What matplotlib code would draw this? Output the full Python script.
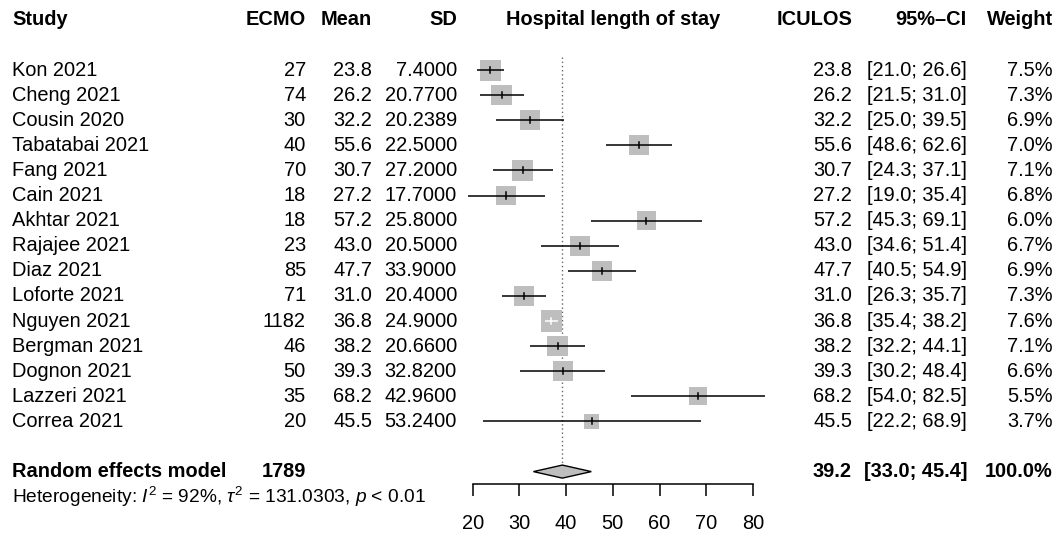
import numpy as np
import matplotlib
matplotlib.use("Agg")
import matplotlib.pyplot as plt
from matplotlib.patches import Polygon

# ---------------- data ----------------
studies = ["Kon 2021", "Cheng 2021", "Cousin 2020", "Tabatabai 2021", "Fang 2021",
           "Cain 2021", "Akhtar 2021", "Rajajee 2021", "Diaz 2021", "Loforte 2021",
           "Nguyen 2021", "Bergman 2021", "Dognon 2021", "Lazzeri 2021", "Correa 2021"]
ecmo = [27, 74, 30, 40, 70, 18, 18, 23, 85, 71, 1182, 46, 50, 35, 20]
means = [23.8, 26.2, 32.2, 55.6, 30.7, 27.2, 57.2, 43.0, 47.7, 31.0, 36.8, 38.2, 39.3, 68.2, 45.5]
sds = [7.4, 20.77, 20.2389, 22.5, 27.2, 17.7, 25.8, 20.5, 33.9, 20.4, 24.9, 20.66, 32.82, 42.96, 53.24]
ci_lo = [21.0, 21.5, 25.0, 48.6, 24.3, 19.0, 45.3, 34.6, 40.5, 26.3, 35.4, 32.2, 30.2, 54.0, 22.2]
ci_hi = [26.6, 31.0, 39.5, 62.6, 37.1, 35.4, 69.1, 51.4, 54.9, 35.7, 38.2, 44.1, 48.4, 82.5, 68.9]
weights = [7.5, 7.3, 6.9, 7.0, 7.1, 6.8, 6.0, 6.7, 6.9, 7.3, 7.6, 7.1, 6.6, 5.5, 3.7]

pooled_label = "Random effects model"
pooled_n = 1789
pooled_est = 39.2
pooled_lo = 33.0
pooled_hi = 45.4
pooled_w = 100.0
het_text = r"Heterogeneity: $\mathit{I}^{2}$ = 92%, $\tau^{2}$ = 131.0303, $\mathit{p}$ < 0.01"

headers = ["Study", "ECMO", "Mean", "SD", "Hospital length of stay", "ICULOS", "95%\u2013CI", "Weight"]
xticks = [20, 30, 40, 50, 60, 70, 80]

# ---------------- style ----------------
plt.rcParams["font.family"] = ["Liberation Sans", "DejaVu Sans"]
plt.rcParams["mathtext.fontset"] = "custom"
plt.rcParams["mathtext.rm"] = "Liberation Sans"
plt.rcParams["mathtext.it"] = "Liberation Sans:italic"
plt.rcParams["mathtext.bf"] = "Liberation Sans:bold"
FS = 14.4
FS_HET = 13.8
BOX = "#BEBEBE"

W, H = 1060, 538
fig = plt.figure(figsize=(W / 100, H / 100), dpi=100)

# row layout: first study at row 1, px 70, 25.1 px per row
row_px = 25.1
y_top = 1 - 70 / row_px
y_bot = 1 + (H - 70) / row_px

ax_t = fig.add_axes([0, 0, 1, 1])
ax_t.set_xlim(0, W)
ax_t.set_ylim(y_bot, y_top)
ax_t.axis("off")

rows = np.arange(1, len(studies) + 1)
head_row = -1
pool_row = rows[-1] + 2
het_row = pool_row + 1

col_x = {"study": 12, "ecmo": 306, "mean": 372, "sd": 457, "est": 852, "ci": 967, "w": 1053}
forest_left, forest_right = 472.7, 752.9

# headers
hb = dict(fontsize=FS, fontweight="bold", va="center")
ax_t.text(col_x["study"], head_row, headers[0], ha="left", **hb)
ax_t.text(col_x["ecmo"], head_row, headers[1], ha="right", **hb)
ax_t.text(col_x["mean"], head_row, headers[2], ha="right", **hb)
ax_t.text(col_x["sd"], head_row, headers[3], ha="right", **hb)
ax_t.text((forest_left + forest_right) / 2, head_row, headers[4], ha="center", **hb)
ax_t.text(col_x["est"], head_row, headers[5], ha="right", **hb)
ax_t.text(col_x["ci"], head_row, headers[6], ha="right", **hb)
ax_t.text(col_x["w"], head_row, headers[7], ha="right", **hb)

tn = dict(fontsize=FS, va="center")
for r, s, n, m, sd, lo, hi, w in zip(rows, studies, ecmo, means, sds, ci_lo, ci_hi, weights):
    ax_t.text(col_x["study"], r, s, ha="left", **tn)
    ax_t.text(col_x["ecmo"], r, f"{n}", ha="right", **tn)
    ax_t.text(col_x["mean"], r, f"{m:.1f}", ha="right", **tn)
    ax_t.text(col_x["sd"], r, f"{sd:.4f}", ha="right", **tn)
    ax_t.text(col_x["est"], r, f"{m:.1f}", ha="right", **tn)
    ax_t.text(col_x["ci"], r, f"[{lo:.1f}; {hi:.1f}]", ha="right", **tn)
    ax_t.text(col_x["w"], r, f"{w:.1f}%", ha="right", **tn)

ax_t.text(col_x["study"], pool_row, pooled_label, ha="left", **hb)
ax_t.text(col_x["ecmo"], pool_row, f"{pooled_n}", ha="right", **hb)
ax_t.text(col_x["est"], pool_row, f"{pooled_est:.1f}", ha="right", **hb)
ax_t.text(col_x["ci"], pool_row, f"[{pooled_lo:.1f}; {pooled_hi:.1f}]", ha="right", **hb)
ax_t.text(col_x["w"], pool_row, f"{pooled_w:.1f}%", ha="right", **hb)
ax_t.text(col_x["study"], het_row, het_text, ha="left", fontsize=FS_HET, va="center")

# ---------------- forest panel ----------------
ax = fig.add_axes([forest_left / W, 0, (forest_right - forest_left) / W, 1])
ax.patch.set_alpha(0)
ax.set_xlim(xticks[0], xticks[-1])
ax.set_ylim(y_bot, y_top)
for sp in ["left", "right", "top"]:
    ax.spines[sp].set_visible(False)
ax.spines["bottom"].set_position(("data", pool_row + 0.5))
ax.spines["bottom"].set_linewidth(1.1)
ax.set_yticks([])
ax.set_xticks(xticks)
ax.set_xticklabels([str(t) for t in xticks])
ax.tick_params(axis="x", direction="out", length=8.6, width=1.1, pad=13, labelsize=FS)

px_per_unit = (forest_right - forest_left) / (xticks[-1] - xticks[0])
ref_w = 7.5
ref_side_px = 21.0
sides_px = ref_side_px * np.sqrt(np.array(weights) / ref_w)

# reference dotted line at pooled estimate
ax.plot([pooled_est, pooled_est], [0.5, pool_row - 0.26], color="0.4", lw=1.0,
        linestyle=(0, (1, 2)), zorder=1, clip_on=False)

# squares
ax.scatter(means, rows, marker="s", s=(sides_px * 0.72) ** 2, color=BOX,
           edgecolors="none", zorder=2, clip_on=False)

# CI lines and point ticks
for r, m, lo, hi, side in zip(rows, means, ci_lo, ci_hi, sides_px):
    half = side / 2 / px_per_unit
    inside = (lo >= m - half) and (hi <= m + half)
    c = "white" if inside else "black"
    ax.plot([lo, hi], [r, r], color=c, lw=1.1, zorder=3, clip_on=False, solid_capstyle="butt")
    ax.plot([m, m], [r - 0.12, r + 0.12], color=c, lw=1.1, zorder=3, clip_on=False)

# diamond
dh = 0.26
diamond = Polygon([[pooled_lo, pool_row], [pooled_est, pool_row - dh],
                   [pooled_hi, pool_row], [pooled_est, pool_row + dh]],
                  closed=True, facecolor=BOX, edgecolor="black", lw=1.0, zorder=3,
                  clip_on=False)
ax.add_patch(diamond)

fig.savefig("out.png", dpi=100)
